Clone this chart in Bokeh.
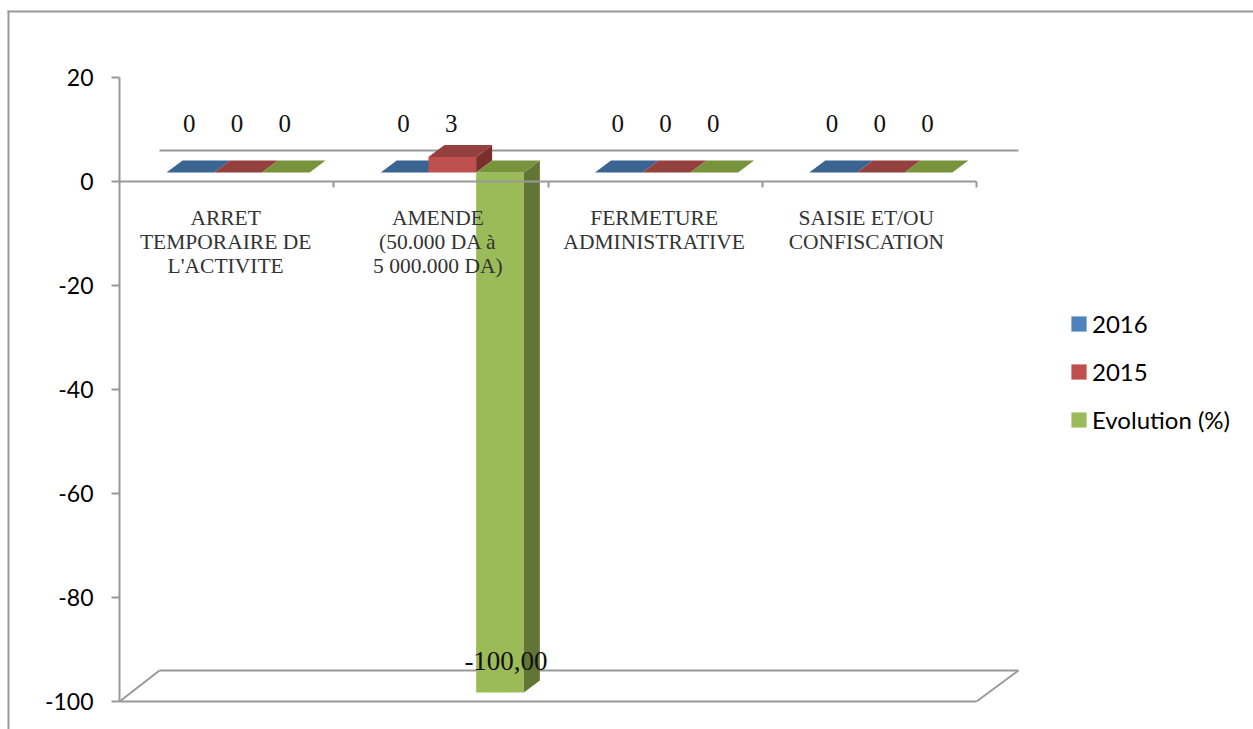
from bokeh.plotting import figure
from bokeh.models import (LinearAxis, FixedTicker, Range1d, Legend, LegendItem, BoxAnnotation)
from bokeh.core.properties import value
from bokeh.embed import file_html
from bokeh.resources import INLINE

categories = ["ARRET\nTEMPORAIRE DE\nL'ACTIVITE",
              "AMENDE\n(50.000 DA à\n5 000.000 DA)",
              "FERMETURE\nADMINISTRATIVE",
              "SAISIE ET/OU\nCONFISCATION"]
series_names = ["2016", "2015", "Evolution (%)"]
v2016 = [0, 0, 0, 0]
v2015 = [0, 3, 0, 0]
evolution = [0, -100, 0, 0]
labels2016 = ["0", "0", "0", "0"]
labels2015 = ["0", "3", "0", "0"]
labels_evolution = ["0", "-100,00", "0", "0"]
y_ticks = [-100, -80, -60, -40, -20, 0, 20]

front_colors = ["#4f81bd", "#c0504d", "#9bbb59"]
top_colors = ["#3a6491", "#93403e", "#77933c"]
side_colors = ["#2f5078", "#7a2f2d", "#637535"]
GREY = "#999999"
SERIF = "Liberation Serif"
SANS = "Lato"

W, H = 1253, 729
LEFT, BOTTOM = 119, 28
PXX, PXY = 214.25, 5.2

p = figure(width=W, height=H, output_backend="svg", toolbar_location=None,
           x_range=Range1d(-LEFT / PXX, (W - LEFT) / PXX),
           y_range=Range1d(-100 - BOTTOM / PXY, -100 + (H - BOTTOM) / PXY),
           x_axis_location=None, y_axis_location=None,
           min_border=0, tools="", outline_line_color=None, background_fill_color="white")
p.grid.visible = False

# main y axis
ya = LinearAxis(fixed_location=0, ticker=FixedTicker(ticks=y_ticks), bounds=(-100, 20))
ya.axis_line_color = GREY
ya.axis_line_width = 2
ya.major_tick_line_color = GREY
ya.major_tick_line_width = 2
ya.major_tick_out = 8
ya.major_tick_in = 0
ya.minor_tick_line_color = None
ya.major_label_text_font = SANS
ya.major_label_text_font_size = "23px"
ya.major_label_text_color = "black"
ya.major_label_standoff = 18
ya.major_label_overrides = {t: str(t) for t in y_ticks}
p.add_layout(ya, "left")

# floor front edge
xa = LinearAxis(fixed_location=-100, ticker=FixedTicker(ticks=[]), bounds=(0, 4))
xa.axis_line_color = GREY
xa.axis_line_width = 2
xa.major_label_text_color = None
xa.minor_tick_line_color = None
p.add_layout(xa, "below")

# category axis at zero
za = LinearAxis(fixed_location=0, ticker=FixedTicker(ticks=[1, 2, 3, 4]), bounds=(0, 4))
za.axis_line_color = GREY
za.axis_line_width = 2
za.major_tick_line_color = GREY
za.major_tick_line_width = 2
za.major_tick_out = 6
za.major_tick_in = 0
za.minor_tick_line_color = None
za.major_label_text_color = None
p.add_layout(za, "below")


def ux(px):
    return px / PXX


def uy(px):
    return px / PXY


# back wall / floor edges
back_x, back_y = 40, 31
p.segment(x0=[ux(back_x)] * 2, x1=[4 + ux(back_x + 2)] * 2,
          y0=[-100 + uy(back_y), uy(back_y)], y1=[-100 + uy(back_y), uy(back_y)],
          line_color=GREY, line_width=2)
p.segment(x0=[0, 4], x1=[ux(back_x), 4 + ux(back_x + 2)],
          y0=[-100, -100], y1=[-100 + uy(back_y)] * 2,
          line_color=GREY, line_width=2)

# bars
bar_w, bar_start = ux(47.7), ux(47)
floor = uy(9)
dx, dy = ux(16), uy(12)
items = []
vals = [v2016, v2015, evolution]
lbls = [labels2016, labels2015, labels_evolution]
for s, (name, vs) in enumerate(zip(series_names, vals)):
    fx, fy, tx, ty, sx, sy = [], [], [], [], [], []
    for i, v in enumerate(vs):
        x0 = i + bar_start + s * bar_w
        x1 = x0 + bar_w
        a, b = floor + min(v, 0), floor + max(v, 0)
        fx.append([x0, x1, x1, x0]); fy.append([a, a, b, b])
        tx.append([x0, x1, x1 + dx, x0 + dx]); ty.append([b, b, b + dy, b + dy])
        sx.append([x1, x1 + dx, x1 + dx, x1]); sy.append([a, a + dy, b + dy, b])
    r = p.patches(fx, fy, fill_color=front_colors[s], line_color=None)
    p.patches(sx, sy, fill_color=side_colors[s], line_color=None)
    p.patches(tx, ty, fill_color=top_colors[s], line_color=None)
    items.append(LegendItem(label=name, renderers=[r]))

# data labels
for s, (vs, ls) in enumerate(zip(vals, lbls)):
    for i, (v, l) in enumerate(zip(vs, ls)):
        centre = i + bar_start + (s + 0.5) * bar_w
        if v < 0:
            x, y, size = centre + ux(6), v + uy(41), "27px"
        else:
            x, y, size = centre - ux(1), uy(58), "25px"
        p.text([x], [y], text=[l], text_font=value(SERIF), text_font_size=size, text_color="#111111",
               text_align="center", text_baseline="middle")

# category labels
label_nudge = [-1, -3, -1, -3]
p.text([i + 0.5 + ux(label_nudge[i]) for i in range(len(categories))], [uy(-24)] * len(categories),
       text=categories, text_font=value(SERIF), text_font_size="21.5px", text_color="#333333",
       text_align="center", text_baseline="top", text_line_height=1.0)

legend = Legend(items=items, location=(1069, 295), orientation="vertical",
                background_fill_alpha=0, border_line_color=None, padding=0, margin=0,
                glyph_width=19, glyph_height=19, label_standoff=4, spacing=19,
                label_text_font=SANS, label_text_font_size="24px", label_text_color="black")
p.add_layout(legend, "center")

# outer picture frame (screen units, measured from the frame's lower-left corner)
p.add_layout(BoxAnnotation(left=7, right=W, top=H - 10, bottom=H - 12, left_units="screen", right_units="screen",
                           top_units="screen", bottom_units="screen", fill_color=GREY, fill_alpha=1, line_color=None))
p.add_layout(BoxAnnotation(left=7, right=9, top=H - 10, bottom=0, left_units="screen", right_units="screen",
                           top_units="screen", bottom_units="screen", fill_color=GREY, fill_alpha=1, line_color=None))

open("out.html", "w").write(file_html(p, INLINE))
